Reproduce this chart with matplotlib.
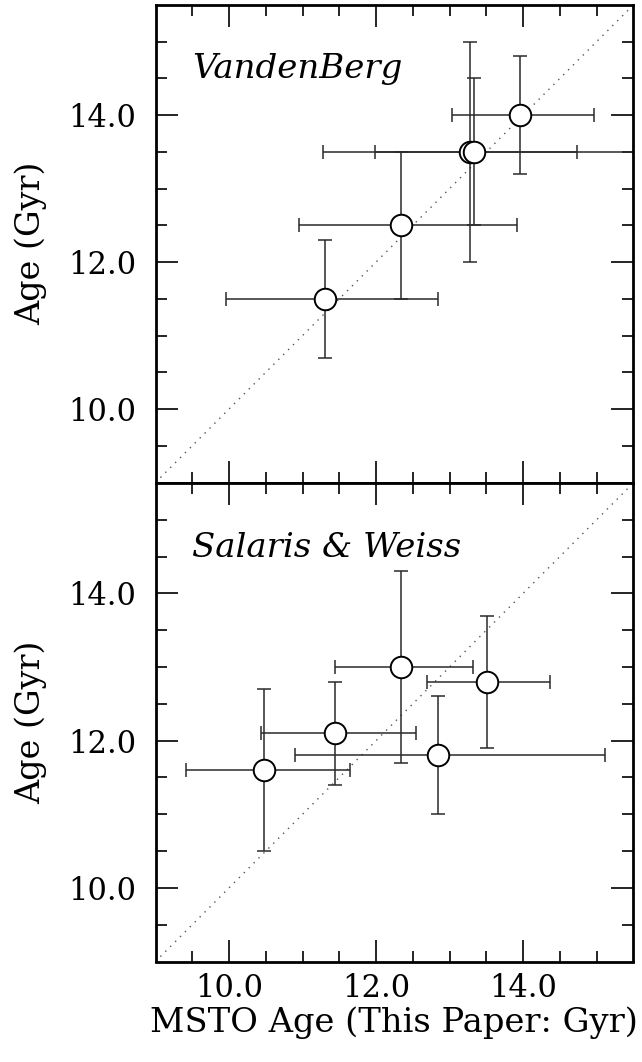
import matplotlib
matplotlib.use("Agg")
import matplotlib.pyplot as plt
import numpy as np

# ---- data: VandenBerg panel ----
vb_x = [11.31, 12.34, 13.28, 13.33, 13.96]
vb_y = [11.5, 12.5, 13.5, 13.5, 14.0]
vb_xlo = [1.35, 1.39, 2.0, 1.35, 0.93]
vb_xhi = [1.53, 1.58, 1.46, 2.5, 1.0]
vb_ylo = [0.8, 1.0, 1.5, 1.0, 0.8]
vb_yhi = [0.8, 1.0, 1.5, 1.0, 0.8]

# ---- data: Salaris & Weiss panel ----
sw_x = [10.48, 11.44, 12.34, 13.51, 12.84]
sw_y = [11.6, 12.1, 13.0, 12.8, 11.8]
sw_xlo = [1.06, 1.0, 0.9, 0.82, 1.94]
sw_xhi = [1.17, 1.1, 0.98, 0.86, 2.28]
sw_ylo = [1.1, 0.7, 1.3, 0.9, 0.8]
sw_yhi = [1.1, 0.7, 1.3, 0.9, 0.8]

panel_labels = ["VandenBerg", "Salaris & Weiss"]
xlim = (9.0, 15.5)
ylim = (9.0, 15.5)
major_ticks = [10.0, 12.0, 14.0]
tick_labels = ["10.0", "12.0", "14.0"]

FONT = "DejaVu Serif"

fig = plt.figure(figsize=(6.42, 10.62), dpi=100)
W, H = 642, 1062
left = 155.5 / W
width = (633.3 - 155.5) / W
ax_top = fig.add_axes([left, 1 - 482.5 / H, width, 477.5 / H])
ax_bot = fig.add_axes([left, 1 - 961.5 / H, width, 478.5 / H])

datasets = [
    (vb_x, vb_y, vb_xlo, vb_xhi, vb_ylo, vb_yhi),
    (sw_x, sw_y, sw_xlo, sw_xhi, sw_ylo, sw_yhi),
]

for ax, data, lab in zip([ax_top, ax_bot], datasets, panel_labels):
    x, y, xlo, xhi, ylo, yhi = data
    ax.plot(xlim, ylim, linestyle=(0, (1, 4)), color="#555555", lw=1.0, zorder=1)
    ax.errorbar(x, y, xerr=[xlo, xhi], yerr=[ylo, yhi], fmt="none",
                ecolor="#2a2a2a", elinewidth=1.1, capsize=5, capthick=1.1, zorder=2)
    ax.plot(x, y, "o", ms=15.5, mfc="white", mec="black", mew=1.4, zorder=3,
            linestyle="none")
    ax.set_xlim(*xlim)
    ax.set_ylim(*ylim)
    ax.set_xticks(major_ticks)
    ax.set_yticks(major_ticks)
    ax.set_xticks(np.arange(9.5, 15.5, 0.5), minor=True)
    ax.set_yticks(np.arange(9.5, 15.5, 0.5), minor=True)
    ax.tick_params(which="both", direction="in", top=True, right=True, width=1.2)
    ax.tick_params(which="major", length=16)
    ax.tick_params(which="minor", length=8)
    ax.set_yticklabels(tick_labels, fontfamily=FONT, fontsize=22)
    ax.tick_params(axis="y", pad=14)
    for s in ax.spines.values():
        s.set_linewidth(2.0)
    ax.text(9.5, 14.5, lab, fontfamily=FONT, fontstyle="italic", fontsize=24.5,
            ha="left", va="baseline")
    ax.set_ylabel("Age (Gyr)", fontfamily=FONT, fontsize=24, labelpad=15)

ax_top.set_xticklabels([])
ax_bot.set_xticklabels(tick_labels, fontfamily=FONT, fontsize=22)
ax_bot.tick_params(axis="x", pad=8)
ax_bot.set_xlabel("MSTO Age (This Paper: Gyr)", fontfamily=FONT, fontsize=24.3,
                  labelpad=2)

fig.savefig("out.png", dpi=100)
